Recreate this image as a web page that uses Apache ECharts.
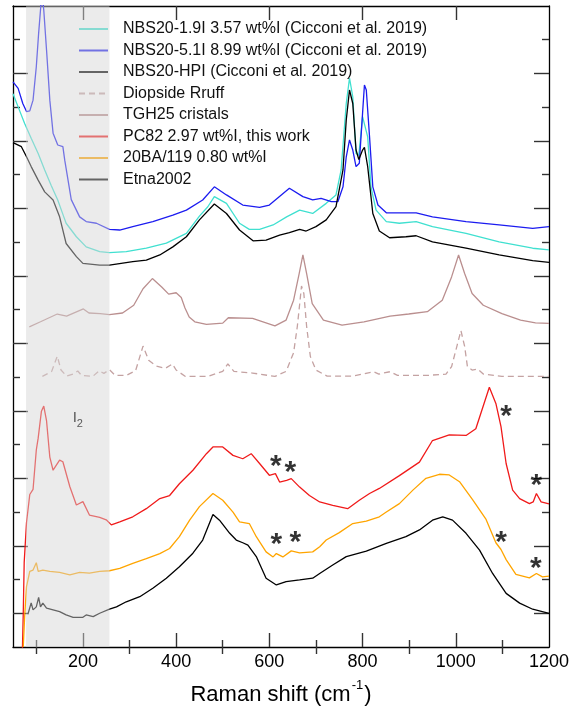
<!DOCTYPE html>
<html><head><meta charset="utf-8">
<script src="https://cdn.jsdelivr.net/npm/echarts@6/dist/echarts.min.js"></script>
<style>html,body{margin:0;padding:0;background:#fff}#c{width:583px;height:708px}</style>
</head><body><div id="c"></div>
<script>
// ---- data ----
const xLabelValues = [200, 400, 600, 800, 1000, 1200];
const xMajorTicks = [200, 400, 600, 800, 1000];
const xMinorTicks = [100, 300, 500, 700, 900, 1100];
const yMajorTicks = [1, 3, 5, 7, 9, 11, 13, 15, 17];
const yMinorTicks = [2, 4, 6, 8, 10, 12, 14, 16, 18];
const seriesNames = ['NBS20-1.9I 3.57 wt%I (Cicconi et al. 2019)', 'NBS20-5.1I 8.99 wt%I (Cicconi et al. 2019)',
  'NBS20-HPI (Cicconi et al. 2019)', 'Diopside Rruff', 'TGH25 cristals', 'PC82 2.97 wt%I, this work',
  '20BA/119 0.80 wt%I', 'Etna2002'];
const nbs19 = [[50,16.4],[61,16.01],[75,15.52],[89,15.08],[104,14.63],[118,14.14],[132,13.68],[146,13.25],[159,12.75],[164,12.56],[186,12.16],[207,11.86],[236,11.72],[257,11.69],[293,11.72],[336,11.82],[379,11.97],[422,12.26],[450,12.77],[468,13.05],[482,13.35],[508,13.15],[536,12.56],[557,12.38],[579,12.38],[608,12.51],[637,12.75],[665,12.95],[693,12.85],[722,13.15],[743,13.4],[754,14.14],[765,16.11],[772,16.86],[779,16.31],[786,14.63],[792,14.58],[800,15.72],[804,15.77],[811,15.12],[818,13.64],[829,12.95],[851,12.61],[879,12.56],[915,12.61],[950,12.46],[1022,12.26],[1093,12.01],[1165,11.82],[1200,11.77]];
const nbs51 = [[50,16.75],[61,16.56],[71,16.11],[79,15.87],[86,15.89],[93,16.21],[100,17.2],[105,18.19],[109,18.88],[112,19.4],[116,18.88],[122,17.69],[129,16.21],[136,15.23],[146,14.88],[157,14.83],[161,14.43],[175,13.26],[193,12.75],[207,12.61],[229,12.56],[257,12.38],[279,12.36],[307,12.46],[350,12.61],[393,12.8],[422,12.95],[457,13.25],[482,13.64],[508,13.4],[543,13.1],[579,13.03],[600,13.1],[643,13.6],[672,13.35],[693,13.25],[711,13.3],[733,13.2],[747,13.2],[758,13.64],[765,14.53],[772,15.03],[779,14.73],[786,14.24],[793,14.34],[800,15.82],[804,16.66],[808,16.51],[815,15.12],[822,13.64],[833,13.1],[851,12.87],[915,12.87],[950,12.75],[1022,12.61],[1093,12.51],[1165,12.41],[1200,12.46]];
const nbsHPI = [[50,14.95],[68,14.83],[79,14.53],[89,14.24],[104,13.84],[118,13.49],[136,13.25],[150,12.75],[164,11.96],[186,11.57],[200,11.37],[236,11.32],[257,11.32],[307,11.42],[336,11.47],[365,11.62],[393,11.86],[422,12.16],[450,12.66],[482,13.13],[508,12.85],[536,12.36],[565,12.04],[593,12.06],[622,12.21],[643,12.28],[665,12.38],[679,12.33],[700,12.46],[722,12.66],[743,13.05],[758,14.14],[765,15.62],[772,16.51],[779,16.11],[786,14.73],[792,14.45],[800,14.73],[804,14.81],[811,14.24],[822,12.85],[836,12.33],[858,12.13],[893,12.16],[915,12.19],[950,12.01],[1022,11.82],[1093,11.62],[1165,11.45],[1200,11.4]];
const diopside = [[113,8.02],[133,8.17],[145,8.62],[153,8.21],[165,8.03],[181,8.1],[189,8.18],[197,8.05],[221,8.02],[235,8.19],[245,8.11],[257,8.22],[269,8.05],[293,8.05],[313,8.19],[329,8.92],[341,8.5],[357,8.33],[377,8.26],[392,8.39],[400,8.21],[420,8.02],[468,8.02],[500,8.17],[511,8.39],[524,8.17],[564,8.12],[612,8.02],[636,8.17],[652,8.72],[660,9.5],[666,10.29],[669,10.7],[674,10.48],[680,9.5],[688,8.61],[700,8.21],[724,8.03],[780,8.03],[823,8.16],[835,8.09],[859,8.16],[875,8.05],[939,8.05],[979,8.09],[991,8.31],[1003,8.95],[1011,9.38],[1019,8.91],[1025,8.31],[1035,8.21],[1047,8.24],[1059,8.09],[1099,8.02],[1200,8.02]];
const tgh25 = [[85,9.49],[109,9.64],[145,9.87],[165,9.81],[201,10.02],[213,9.9],[237,9.88],[257,9.85],[285,9.9],[309,10.13],[329,10.62],[349,10.92],[369,10.67],[384,10.46],[400,10.5],[411,10.36],[419,10.05],[428,9.78],[440,9.64],[465,9.56],[500,9.6],[512,9.76],[564,9.74],[612,9.52],[636,9.69],[652,10.28],[664,11.07],[672,11.62],[680,11.07],[692,10.18],[716,9.69],[756,9.54],[803,9.64],[859,9.81],[899,9.87],[939,9.94],[971,10.28],[991,10.97],[1006,11.62],[1019,11.07],[1035,10.48],[1059,10.13],[1099,9.88],[1139,9.69],[1171,9.61],[1200,9.59]];
const pc82 = [[70,-0.2],[72,1.0],[74,2.5],[79,3.69],[86,4.52],[93,4.67],[100,5.84],[104,6.19],[111,6.99],[116,7.14],[122,6.7],[129,5.63],[136,5.24],[150,5.54],[157,5.49],[172,4.75],[186,4.21],[200,4.31],[214,3.91],[236,3.84],[250,3.77],[261,3.62],[279,3.71],[307,3.86],[336,4.1],[365,4.4],[386,4.49],[407,4.84],[436,5.24],[465,5.73],[479,5.93],[500,5.93],[522,5.68],[543,5.58],[561,5.73],[579,5.44],[600,5.09],[613,5.14],[622,4.89],[637,4.94],[647,4.99],[665,4.74],[686,4.49],[708,4.3],[736,4.2],[768,4.1],[793,4.35],[815,4.55],[836,4.7],[879,5.08],[922,5.48],[950,6.12],[986,6.29],[1022,6.27],[1043,6.47],[1072,7.7],[1086,7.22],[1097,6.53],[1108,5.44],[1122,4.65],[1137,4.4],[1158,4.25],[1166,4.3],[1173,4.55],[1183,4.3],[1200,4.24]];
const ba119 = [[72,0.0],[75,0.9],[79,1.79],[86,2.24],[93,2.28],[100,2.5],[104,2.24],[114,2.28],[129,2.24],[150,2.21],[172,2.14],[193,2.21],[214,2.19],[236,2.24],[257,2.26],[279,2.33],[307,2.48],[336,2.62],[365,2.77],[386,2.92],[407,3.27],[429,3.76],[450,4.16],[479,4.55],[500,4.35],[522,4.0],[536,3.71],[557,3.66],[572,3.27],[593,2.82],[608,2.67],[615,2.77],[629,2.67],[647,2.85],[665,2.79],[693,2.82],[708,2.97],[722,3.17],[750,3.39],[779,3.66],[808,3.73],[836,3.86],[851,4.0],[879,4.25],[908,4.65],[936,5.0],[965,5.12],[986,5.1],[1008,4.9],[1036,4.37],[1065,3.78],[1086,3.09],[1097,2.89],[1108,2.59],[1129,2.15],[1158,2.05],[1173,2.18],[1186,2.08],[1200,2.1]];
const etna = [[82,0.97],[89,1.31],[93,1.1],[100,1.19],[105,1.47],[109,1.19],[114,1.3],[122,1.15],[136,1.1],[150,1.05],[164,0.95],[179,0.88],[200,0.88],[207,0.95],[222,0.9],[236,1.0],[257,1.12],[272,1.19],[293,1.34],[322,1.49],[350,1.74],[379,2.04],[407,2.38],[436,2.78],[457,3.17],[479,3.93],[493,3.76],[515,3.37],[529,3.17],[543,3.09],[554,3.02],[572,2.68],[593,2.04],[615,1.84],[636,1.94],[665,1.99],[693,2.04],[708,2.18],[736,2.43],[765,2.68],[808,2.84],[851,3.07],[893,3.27],[922,3.47],[950,3.76],[972,3.86],[993,3.76],[1022,3.37],[1051,2.87],[1079,2.18],[1108,1.59],[1137,1.3],[1165,1.12],[1200,1.0]];
const shadeRange = [78, 257];
const starPoints = [[614,5.49],[645,5.31],[1108,6.97],[1173,4.93],[615,3.17],[656,3.23],[1097,3.25],[1172,2.48]];
const i2Point = [[178,6.73]];
const xTitle = 'Raman shift (cm';

// ---- chart ----
const FONT = 'Liberation Sans, Arial, Helvetica, sans-serif';
const colors = ['#40e0d0', '#1c1cf0', '#000000', '#c4a2a2', '#ba8f8f', '#f01a1a', '#ffa500', '#000000'];
const dataList = [nbs19, nbs51, nbsHPI, diopside, tgh25, pc82, ba119, etna];
const chart = echarts.init(document.getElementById('c'), null, {renderer: 'canvas'});

const XMIN = 50, XMAX = 1200, YMIN = 0, YMAX = 19;
function xAx(pos, ticks, len, opts) {
  return Object.assign({type: 'value', position: pos, min: XMIN, max: XMAX,
    axisLine: {show: false}, splitLine: {show: false}, axisLabel: {show: false},
    axisTick: {show: true, inside: true, length: len, customValues: ticks, lineStyle: {color: '#333', width: 1.4}}}, opts || {});
}
function yAx(pos, ticks, len, opts) {
  return Object.assign({type: 'value', position: pos, min: YMIN, max: YMAX,
    axisLine: {show: false}, splitLine: {show: false}, axisLabel: {show: false},
    axisTick: {show: true, inside: true, length: len, customValues: ticks, lineStyle: {color: '#333', width: 1.4}}}, opts || {});
}

const lineSeries = dataList.map((d, i) => ({
  name: seriesNames[i], type: 'line', data: d, xAxisIndex: 0, yAxisIndex: 0,
  symbol: 'none', showSymbol: false, clip: true, z: 2,
  lineStyle: {color: colors[i], width: 1.3, type: i === 3 ? [6, 4] : 'solid'},
  itemStyle: {color: colors[i]}
}));

chart.setOption({
  animation: false,
  backgroundColor: '#fff',
  grid: {left: 13, right: 34, top: 6, bottom: 61, containLabel: false, outerBoundsMode: 'none'},
  legend: {
    data: seriesNames, orient: 'vertical', left: 78, top: 21, padding: 0, itemWidth: 29, itemHeight: 14, itemGap: 5.5,
    textStyle: {fontFamily: FONT, fontSize: 16, color: '#111', padding: [0, 0, 0, 10]},
    lineStyle: {width: 2},
    itemStyle: {opacity: 0}
  },
  xAxis: [
    xAx('bottom', xMajorTicks, 14, {
      axisLine: {show: true, onZero: false, lineStyle: {color: '#000', width: 1.3}},
      axisLabel: {show: true, customValues: xLabelValues, fontFamily: FONT, fontSize: 18, color: '#000', margin: 6,
        formatter: v => String(v)},
      name: '{a|' + xTitle + '}{b|-1}{a|)}', nameLocation: 'middle', nameGap: 32,
      nameTextStyle: {fontFamily: FONT, fontSize: 22, color: '#000',
        rich: {a: {fontFamily: FONT, fontSize: 22, color: '#000', verticalAlign: 'bottom'},
               b: {fontFamily: FONT, fontSize: 13, color: '#000', verticalAlign: 'bottom', padding: [0, 1, 14, 1]}}}
    }),
    xAx('bottom', xMinorTicks, 7),
    xAx('top', xMajorTicks, 14, {axisLine: {show: true, onZero: false, lineStyle: {color: '#000', width: 1.3}}}),
    xAx('top', xMinorTicks, 7)
  ],
  yAxis: [
    yAx('left', yMajorTicks, 15, {axisLine: {show: true, onZero: false, lineStyle: {color: '#000', width: 1.3}}}),
    yAx('left', yMinorTicks, 7),
    yAx('right', yMajorTicks, 15, {axisLine: {show: true, onZero: false, lineStyle: {color: '#000', width: 1.3}}}),
    yAx('right', yMinorTicks, 7)
  ],
  series: lineSeries.concat([
    {
      name: 'shade', type: 'line', data: [], xAxisIndex: 0, yAxisIndex: 0, z: 5, silent: true,
      markArea: {silent: true, z: 10, itemStyle: {color: 'rgba(213,213,213,0.47)'},
        data: [[{xAxis: shadeRange[0], yAxis: YMIN}, {xAxis: shadeRange[1], yAxis: YMAX}]]}
    },
    {
      name: 'stars', type: 'scatter', data: starPoints, symbolSize: 0, z: 12, silent: true,
      label: {show: true, position: 'inside', formatter: '*', fontFamily: FONT, fontSize: 30, fontWeight: 'bold', color: '#000', offset: [0, 5]}
    },
    {
      name: 'i2', type: 'scatter', data: i2Point, symbolSize: 0, z: 12, silent: true,
      label: {show: true, position: 'inside', align: 'left', formatter: '{a|I}{b|2}',
        rich: {a: {fontFamily: FONT, fontSize: 15, color: '#333', verticalAlign: 'bottom', padding: [0, 0, 5, 0]},
               b: {fontFamily: FONT, fontSize: 11, color: '#333', verticalAlign: 'bottom'}}}
    }
  ])
});
</script></body></html>
